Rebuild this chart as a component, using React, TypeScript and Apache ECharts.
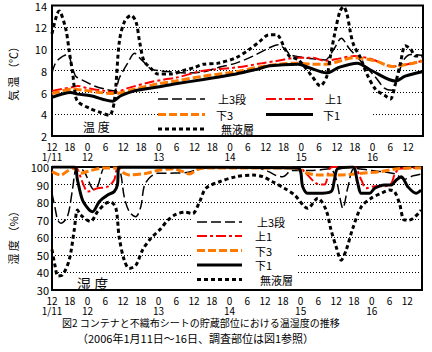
import React, { useEffect, useRef } from 'react';
import * as echarts from 'echarts';

// ---------- data (hours since 1/11 00:00, value) ----------
const dayLabels = ['1/11', '12', '13', '14', '15', '16'];
const seriesNames = ['上3段', '上1', '下3', '下1', '無液層'];

// Temperature (°C)
const tempUpper3: [number, number][] = [
  [12, 7.8], [13, 8.6], [14.4, 9.1], [17.2, 9.5], [18.9, 8.3], [20, 7.5], [22.9, 7.05], [26.3, 6.6], [30, 6.3],
  [33, 6.15], [34.7, 7.35], [37.5, 8.7], [39.8, 9.6], [42, 9.05], [43.7, 8.6], [45.4, 8.15], [48.2, 8.0],
  [52, 7.9], [58, 7.8], [63, 7.9], [68, 8.3], [74, 8.7], [79.7, 9.35], [84.4, 10.0], [88.2, 10.4], [90.5, 10.0],
  [92.2, 9.5], [95, 9.3], [100, 9.1], [104, 9.0], [107, 10.0], [109.5, 11.0], [112, 10.1], [115, 9.2], [118, 8.3],
  [121, 7.4], [124, 6.4], [126.5, 6.2], [128.5, 7.5], [130.5, 9.0], [133, 9.5], [136.7, 9.4],
];
const tempUpper1: [number, number][] = [
  [12, 6.15], [19, 6.5], [20.6, 6.6], [24, 6.4], [29.6, 6.15], [33, 6.0], [37.5, 6.4], [44.3, 6.9], [49.9, 7.2],
  [53.7, 7.35], [63, 8.0], [74, 8.3], [83, 8.7], [87.7, 8.9], [94.5, 9.2], [100, 9.2], [104, 8.9], [107.4, 9.05],
  [114, 9.35], [119.8, 9.05], [126.6, 8.4], [130, 8.5], [136.7, 8.9],
];
const tempLower3: [number, number][] = [
  [12, 5.9], [19, 6.3], [22.9, 6.2], [28, 6.0], [33, 5.9], [39.8, 6.3], [47.6, 6.8], [53.7, 7.05], [63, 7.5],
  [74, 7.9], [83, 8.4], [94.5, 8.7], [100, 8.6], [104, 8.6], [114, 9.2], [121, 8.9], [126.6, 8.4], [136.7, 8.9],
];
const tempLower1: [number, number][] = [
  [12, 5.55], [18.3, 6.0], [20.6, 5.85], [25, 5.7], [32.4, 5.2], [35.2, 5.7], [39.8, 6.15], [47.6, 6.5],
  [53.7, 6.8], [63, 7.2], [74, 7.7], [80.5, 8.1], [85.5, 8.45], [95, 8.6], [98.4, 8.3], [104.6, 7.8],
  [108.6, 8.3], [114.8, 8.7], [119.8, 8.0], [127.7, 7.05], [131, 7.5], [136.7, 7.9],
];
const tempNoLiquid: [number, number][] = [
  [12, 11.4], [14.4, 13.5], [16.6, 11.9], [17.8, 9.8], [19, 7.7], [19.6, 6.3], [20.6, 5.2], [25, 4.5], [28, 4.2],
  [31.3, 3.9], [33, 5.2], [34.7, 10.7], [36.4, 12.5], [38.6, 13.1], [40.3, 12.5], [41.5, 10.7], [43, 8.9],
  [45.4, 8.2], [47.6, 7.7], [52, 7.7], [56, 8.0], [60, 8.3], [63, 8.6], [68, 8.7], [74, 9.2], [78.7, 10.0],
  [82, 10.7], [85, 11.3], [87.7, 11.3], [90.5, 10.0], [92, 9.35], [95, 9.0], [99.6, 7.5], [102.4, 6.6],
  [104.6, 7.5], [105.7, 9.2], [107.4, 11.6], [109, 13.45], [110.2, 13.9], [111.4, 13.2], [112.5, 11.6],
  [113.6, 10.4], [115.9, 9.2], [118.1, 7.7], [121, 6.3], [124.3, 5.7], [126, 5.4], [127.7, 6.8], [129.4, 8.7],
  [131, 10.3], [132.8, 10.0], [134.5, 9.35], [136.7, 9.35],
];

// Humidity (%)
const humUpper3: [number, number][] = [
  [12, 85], [13, 77], [13.9, 70], [15, 68], [17.2, 71.7], [18.9, 87], [20, 99], [21, 100], [23, 97], [26.2, 87],
  [27.4, 89], [30, 100], [34, 100], [35.2, 96.4], [36.4, 83], [38.1, 74.6], [40.3, 71.7], [42, 77.4], [43.1, 88.8],
  [44.8, 93.6], [47.6, 96.4], [52, 96.5], [58, 97], [62, 99], [70, 100], [80, 100], [85, 97.5], [88, 95],
  [90, 94.5], [93, 98], [100, 98], [106, 99], [108, 93], [110.3, 76.5], [112, 88.8], [114.2, 99.3], [120, 98],
  [125, 97], [128, 96], [131, 93], [134, 95], [136.7, 96],
];
const humUpper1: [number, number][] = [
  [12, 100], [19, 100], [20.5, 99], [21.5, 95], [22.9, 88.8], [24, 86], [27.4, 87.9], [30.8, 88.8], [33, 92.6],
  [34.7, 100], [95.6, 99.4], [98, 96], [101.5, 90.5], [104, 90], [105.8, 99], [107, 100], [114, 100],
  [116.5, 92.6], [118.1, 87.9], [121, 89], [124, 89], [126.6, 90.7], [127.7, 95.5], [129.4, 99], [136.7, 99.5],
];
const humLower3: [number, number][] = [
  [12, 97.4], [15, 95.4], [17, 97.4], [19, 99.3], [21.7, 96.4], [25, 98], [30, 99.5], [34.7, 99], [36.4, 96.4],
  [38, 95.5], [44, 96.4], [47.6, 98], [53, 99], [56, 97.5], [58.4, 96], [61, 98.5], [64, 99.5], [94, 99.5],
  [98, 96.6], [102.4, 95.4], [108.6, 95.4], [116.5, 96.4], [123, 97.4], [129, 99], [136.7, 99.5],
];
const humLower1: [number, number][] = [
  [12, 100], [19.5, 100], [20.6, 92.6], [22.3, 81.2], [24.6, 75.5], [25.7, 74.6], [28, 80.3], [30.8, 84],
  [33, 86], [34.1, 89.8], [34.7, 100], [95, 99.5], [96.7, 88.8], [98.4, 85], [101.8, 85], [106.3, 86],
  [107.4, 92.6], [108.5, 99], [113.6, 100], [115.3, 90.7], [116.5, 85], [119.3, 85], [121, 87.9], [124.3, 89.8],
  [126.6, 89.8], [128.3, 92.6], [130, 94.5], [132.2, 88.8], [135, 85], [136.7, 86.9],
];
const humNoLiquid: [number, number][] = [
  [12, 53], [13, 44], [14, 38], [15.5, 38.5], [17.8, 47], [19.5, 64], [20.6, 75.5], [21.7, 72.7], [25, 69],
  [27.4, 74.6], [30.2, 79.3], [31.9, 80], [33.6, 76.5], [34.7, 60], [36.4, 47], [38.1, 42.3], [40.3, 44],
  [42.6, 52.8], [45.4, 59.4], [48.8, 65], [51, 69.5], [53.8, 73], [57, 74.3], [59.5, 73.5], [61.8, 80],
  [64, 87.9], [68.6, 91.6], [74.2, 94.5], [79.8, 95.4], [83.2, 94.5], [86.5, 91.6], [90.5, 87.9], [94, 84],
  [98.4, 76.5], [101.8, 82.2], [104.6, 75.5], [106.3, 64], [108, 54.6], [109.7, 47], [111.4, 52.8],
  [113.6, 65], [116.5, 77.4], [119.8, 82.2], [123.2, 85], [126, 86.9], [127.7, 86], [129.4, 79.3], [131, 69.8],
  [132.8, 69.8], [136.7, 75.5],
];

const FONT = '"Noto Sans CJK JP", sans-serif';

type Sty = { color: string; width: number; dash: number[] | 'solid' };
const styles: Sty[] = [
  { color: '#000000', width: 1.5, dash: [10, 4] },
  { color: '#ff0000', width: 2, dash: [10, 3, 3, 3] },
  { color: '#ff7a00', width: 3, dash: [8, 3] },
  { color: '#000000', width: 3, dash: 'solid' },
  { color: '#000000', width: 3, dash: [4, 3] },
];

const xLabel = (v: number) => {
  if (v % 6 !== 0) return '';
  const hod = v % 24;
  if (v === 12) return `12\n${dayLabels[0]}`;
  if (hod === 0) return `0\n${dayLabels[v / 24]}`;
  return String(hod);
};

function mkSeries(data: [number, number][], i: number, axis: number) {
  const s = styles[i];
  return {
    type: 'line',
    name: seriesNames[i],
    xAxisIndex: axis,
    yAxisIndex: axis,
    data,
    smooth: 0.3,
    showSymbol: false,
    symbol: 'none',
    lineStyle: { color: s.color, width: s.width, type: s.dash },
    z: i === 3 ? 3 : 2,
  };
}

function legendItems(x0: number, x1: number, ys: number[], textX: number[], idx: number[], x2?: number[]) {
  const out: any[] = [];
  idx.forEach((si, k) => {
    const s = styles[si];
    const lx0 = x2 ? x2[k] : x0;
    out.push({
      type: 'line',
      z: 5,
      shape: { x1: lx0, y1: ys[k], x2: lx0 + (x1 - x0), y2: ys[k] },
      style: { stroke: s.color, lineWidth: s.width, lineDash: s.dash === 'solid' ? null : s.dash },
    });
    out.push({
      type: 'text',
      z: 5,
      x: textX[k],
      y: ys[k],
      style: { text: seriesNames[si], fill: '#000', font: `11px ${FONT}`, verticalAlign: 'middle' },
    });
  });
  return out;
}

export default function App() {
  const ref = useRef<HTMLDivElement>(null);
  useEffect(() => {
    const chart = echarts.init(ref.current!, null, { renderer: 'svg' });
    const xAxisBase = {
      type: 'value',
      min: 12,
      max: 137,
      interval: 6,
      axisLine: { show: false },
      axisTick: { show: false },
      splitLine: { show: false },
      axisLabel: { formatter: xLabel, fontSize: 10, lineHeight: 10, color: '#000', margin: 5, fontFamily: FONT },
    };
    const yAxisBase = {
      type: 'value',
      axisLine: { show: false },
      axisTick: { show: false },
      splitLine: { show: true, lineStyle: { color: '#000', width: 1, type: [1, 2] } },
      axisLabel: { fontSize: 11, color: '#000', margin: 5, fontFamily: FONT },
    };
    const graphic: any[] = [
      { type: 'rect', z: 1, shape: { x: 158, y: 89, width: 214, height: 45 }, style: { fill: '#fff' } },
      { type: 'rect', z: 1, shape: { x: 192, y: 209, width: 106, height: 79 }, style: { fill: '#fff' } },
      ...legendItems(158, 205, [99, 114.5, 129], [218, 216, 221], [0, 2, 4]),
      ...legendItems(158, 205, [99, 114.5], [325, 323], [1, 3], [266, 266]),
      ...legendItems(197, 242, [222, 236, 250.5, 265, 279.5], [257, 255, 255, 255, 260], [0, 1, 2, 3, 4]),
      {
        type: 'text', z: 5, x: 83, y: 126,
        style: { text: '温 度', fill: '#000', font: `12px ${FONT}`, verticalAlign: 'middle' },
      },
      {
        type: 'text', z: 5, x: 77, y: 283,
        style: { text: '湿 度', fill: '#000', font: `14px ${FONT}`, verticalAlign: 'middle' },
      },
      {
        type: 'text', z: 5, x: 13, y: 71, rotation: Math.PI / 2,
        style: { text: '気 温 （℃）', fill: '#000', font: `11px ${FONT}`, align: 'center', verticalAlign: 'middle' },
      },
      {
        type: 'text', z: 5, x: 13, y: 235, rotation: Math.PI / 2,
        style: { text: '湿 度 （%）', fill: '#000', font: `11px ${FONT}`, align: 'center', verticalAlign: 'middle' },
      },
      {
        type: 'text', z: 5, x: 62, y: 322,
        style: { text: '図2 コンテナと不織布シートの貯蔵部位における温湿度の推移', fill: '#000', font: `10px ${FONT}`, verticalAlign: 'middle' },
      },
      {
        type: 'text', z: 5, x: 77, y: 338,
        style: { text: '（2006年1月11日～16日、調査部位は図1参照）', fill: '#000', font: `11px ${FONT}`, verticalAlign: 'middle' },
      },
    ];

    chart.setOption({
      animation: false,
      backgroundColor: '#fff',
      textStyle: { fontFamily: FONT },
      grid: [
        { left: 52, top: 4, width: 371, height: 132, show: true, borderColor: '#000', borderWidth: 2, backgroundColor: 'transparent' },
        { left: 52, top: 167, width: 370, height: 123, show: true, borderColor: '#000', borderWidth: 2, backgroundColor: 'transparent' },
      ],
      xAxis: [
        { ...xAxisBase, gridIndex: 0 },
        { ...xAxisBase, gridIndex: 1 },
      ],
      yAxis: [
        { ...yAxisBase, gridIndex: 0, min: 2, max: 14, interval: 2 },
        { ...yAxisBase, gridIndex: 1, min: 30, max: 100, interval: 10, axisLabel: { ...yAxisBase.axisLabel, margin: 3 } },
      ],
      series: [
        mkSeries(tempUpper3, 0, 0),
        mkSeries(tempUpper1, 1, 0),
        mkSeries(tempLower3, 2, 0),
        mkSeries(tempLower1, 3, 0),
        mkSeries(tempNoLiquid, 4, 0),
        mkSeries(humUpper3, 0, 1),
        mkSeries(humUpper1, 1, 1),
        mkSeries(humLower3, 2, 1),
        mkSeries(humLower1, 3, 1),
        mkSeries(humNoLiquid, 4, 1),
      ],
      graphic,
    });
    return () => chart.dispose();
  }, []);
  return (
    <div
      ref={ref}
      style={{ position: 'fixed', left: 0, top: 0, width: 432, height: 352, background: '#fff' }}
    />
  );
}
